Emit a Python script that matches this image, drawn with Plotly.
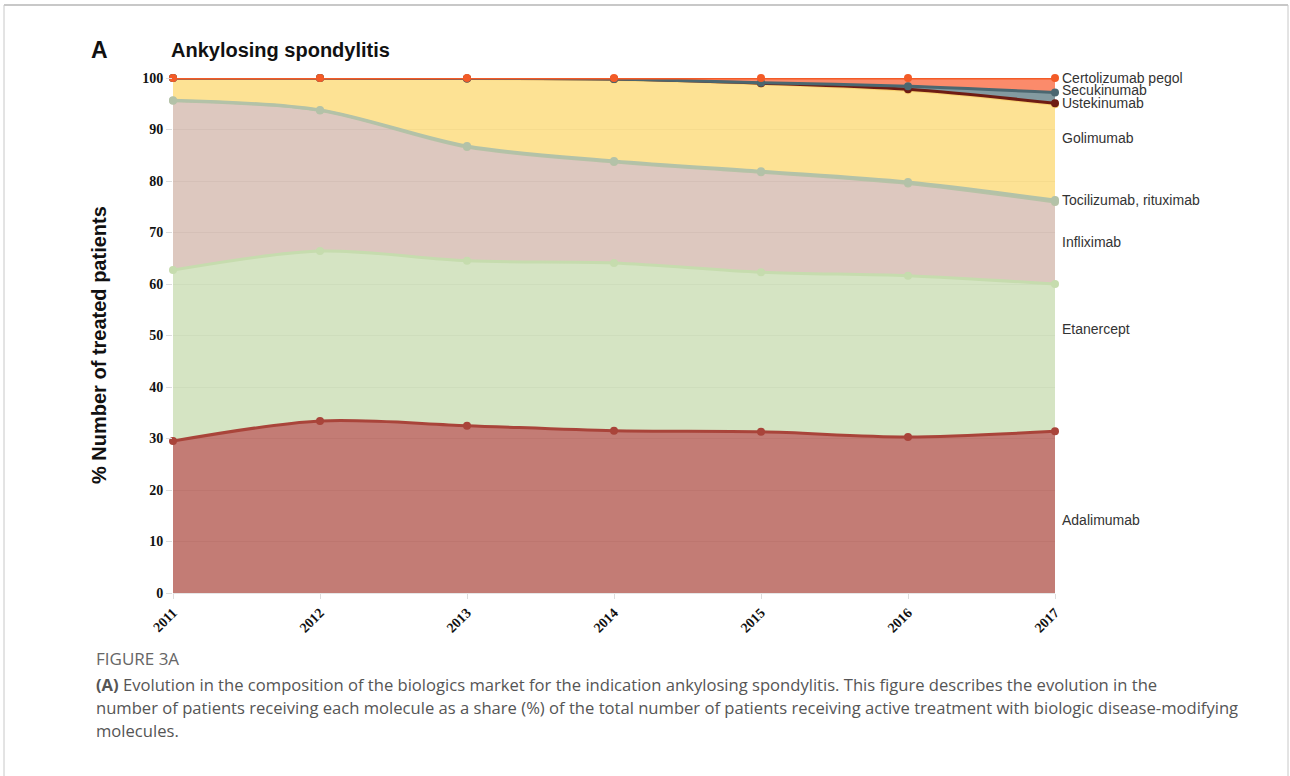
import plotly.graph_objects as go

# Market share (%) of each biologic molecule, ankylosing spondylitis
years = [2011, 2012, 2013, 2014, 2015, 2016, 2017]

adalimumab = [29.5, 33.4, 32.5, 31.5, 31.3, 30.3, 31.4]
etanercept = [33.2, 33.0, 32.0, 32.6, 31.0, 31.3, 28.6]
infliximab = [32.9, 27.3, 22.1, 19.6, 19.4, 17.9, 15.9]
tocilizumab_rituximab = [0.1, 0.1, 0.2, 0.2, 0.2, 0.3, 0.4]
golimumab = [4.3, 6.2, 13.1, 15.8, 17.0, 17.8, 18.6]
ustekinumab = [0.0, 0.0, 0.0, 0.1, 0.1, 0.2, 0.2]
secukinumab = [0.0, 0.0, 0.0, 0.0, 0.1, 0.6, 2.1]
certolizumab_pegol = [0.0, 0.0, 0.1, 0.2, 0.9, 1.6, 2.8]

y_ticks = [0, 10, 20, 30, 40, 50, 60, 70, 80, 90, 100]

# name, values, line colour, fill colour, label position (y, %)
series = [
    ("Adalimumab", adalimumab, "#a9443a", "rgba(169,68,58,0.70)", 14.2),
    ("Etanercept", etanercept, "#c6dcae", "rgba(190,214,163,0.65)", 51.3),
    ("Infliximab", infliximab, "#b7c2a6", "rgba(196,160,144,0.58)", 68.2),
    ("Tocilizumab, rituximab", tocilizumab_rituximab, "#b3c2a8", "rgba(120,170,160,0.6)", 76.4),
    ("Golimumab", golimumab, "#f7d070", "rgba(252,210,90,0.65)", 88.4),
    ("Ustekinumab", ustekinumab, "#6e1c14", "rgba(110,28,20,0.85)", 95.1),
    ("Secukinumab", secukinumab, "#4b6770", "rgba(90,120,128,0.75)", 97.6),
    ("Certolizumab pegol", certolizumab_pegol, "#f35b27", "rgba(250,110,70,0.80)", 100.0),
]

fig = go.Figure()
for name, vals, lc, fc, _ in series:
    fig.add_trace(go.Scatter(
        x=years, y=vals, name=name, stackgroup="one",
        mode="lines+markers",
        line=dict(color=lc, width=3, shape="spline", smoothing=0.9),
        marker=dict(color=lc, size=8),
        fillcolor=fc, cliponaxis=False, hoverinfo="skip",
    ))

annotations = []
for name, _, _, _, ly in series:
    annotations.append(dict(
        x=2017, y=ly, xref="x", yref="y", text=name, showarrow=False,
        xanchor="left", yanchor="middle", xshift=5,
        font=dict(family="Liberation Sans, Arial", size=14, color="#333333"),
    ))

# plot-area geometry used to place text in paper units
L, R, T, B = 173, 1055, 78, 593


def px_x(px):
    return (px - L) / (R - L)


def px_y(py):
    return (B - py) / (B - T)


annotations += [
    dict(x=px_x(89), y=px_y(50), xref="paper", yref="paper", text="<b>A</b>",
         showarrow=False, xanchor="left", yanchor="middle",
         font=dict(family="Liberation Sans, Arial", size=23, color="#111111")),
    dict(x=px_x(169), y=px_y(50), xref="paper", yref="paper",
         text="<b>Ankylosing spondylitis</b>", showarrow=False,
         xanchor="left", yanchor="middle",
         font=dict(family="Liberation Sans, Arial", size=20, color="#111111")),
    dict(x=px_x(99), y=px_y(345), xref="paper", yref="paper",
         text="<b>% Number of treated patients</b>", showarrow=False,
         textangle=-90, xanchor="center", yanchor="middle",
         font=dict(family="Liberation Sans, Arial", size=20, color="#111111")),
]

caption_font = "Open Sans, Lato, sans-serif"
caption_lines = [
    (658, "FIGURE 3A", 17, "#666666"),
    (684, "<b>(A)</b> Evolution in the composition of the biologics market for the indication ankylosing spondylitis. "
          "This figure describes the evolution in the", 16.6, "#555555"),
    (707, "number of patients receiving each molecule as a share (%) of the total number of patients "
          "receiving active treatment with biologic disease-modifying", 16.6, "#555555"),
    (730, "molecules.", 16.6, "#555555"),
]
for py, txt, sz, col in caption_lines:
    annotations.append(dict(
        x=px_x(94), y=px_y(py), xref="paper", yref="paper", text=txt,
        showarrow=False, xanchor="left", yanchor="middle",
        font=dict(family=caption_font, size=sz, color=col),
    ))

# thin frame around the figure panel
frame_col = "#c8c8c8"
shapes = [
    dict(type="line", xref="paper", yref="paper", x0=px_x(4), x1=px_x(1288),
         y0=px_y(5), y1=px_y(5), line=dict(color=frame_col, width=2)),
    dict(type="line", xref="paper", yref="paper", x0=px_x(4), x1=px_x(4),
         y0=px_y(5), y1=px_y(790), line=dict(color=frame_col, width=1)),
    dict(type="line", xref="paper", yref="paper", x0=px_x(1288), x1=px_x(1288),
         y0=px_y(5), y1=px_y(790), line=dict(color=frame_col, width=1)),
]

tick_font = dict(family="Liberation Serif, Times New Roman, serif", size=14,
                 color="#111111", weight="bold")

fig.update_layout(
    width=1290, height=776,
    margin=dict(l=L, r=1290 - R, t=T, b=776 - B),
    paper_bgcolor="white", plot_bgcolor="white",
    showlegend=False,
    annotations=annotations,
    shapes=shapes,
    xaxis=dict(
        range=[2011, 2017], tickvals=years, ticktext=[str(y) for y in years],
        tickangle=-45, ticks="outside", ticklen=5, tickcolor="#dddddd",
        showgrid=False, showline=True, linecolor="#e6e6e6", zeroline=False,
        tickfont=tick_font, fixedrange=True,
    ),
    yaxis=dict(
        range=[0, 100], tickvals=y_ticks, ticks="outside", ticklen=6,
        tickcolor="#dddddd", showgrid=True, gridcolor="#ebebeb",
        zeroline=False, showline=False,
        tickfont=tick_font, fixedrange=True,
    ),
)

fig.write_html("out.html")
